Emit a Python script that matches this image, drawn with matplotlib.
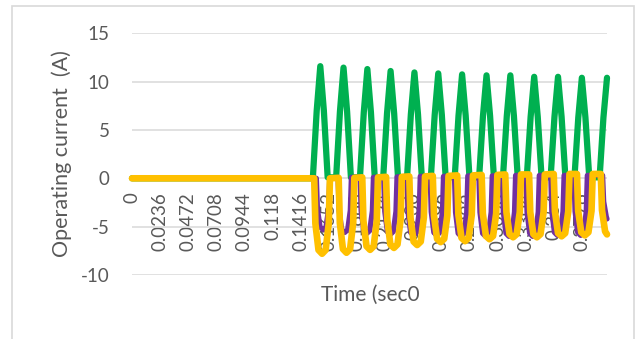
import matplotlib
matplotlib.use("Agg")
import matplotlib.pyplot as plt
from matplotlib.patches import Rectangle

# ---- data -------------------------------------------------------------
# time axis (s)
t_end = 0.3986
fault_t = 0.150
tick_times = [0, 0.0236, 0.0472, 0.0708, 0.0944, 0.118, 0.1416, 0.1652,
              0.1888, 0.2124, 0.236, 0.2596, 0.2832, 0.3068, 0.3304,
              0.354, 0.3776]
tick_labels = ["0", "0.0236", "0.0472", "0.0708", "0.0944", "0.118",
               "0.1416", "0.1652", "0.1888", "0.2124", "0.236", "0.2596",
               "0.2832", "0.3068", "0.3304", "0.354", "0.3776"]
y_ticks = [-10, -5, 0, 5, 10, 15]

# phase A (green): time and value of each positive lobe peak
green_peak_t = [0.158, 0.1775, 0.1975, 0.217, 0.237, 0.257, 0.277,
                0.2975, 0.3175, 0.3375, 0.3575, 0.3775]
green_peak_v = [11.6, 11.45, 11.3, 11.1, 10.95, 10.85, 10.75, 10.65,
                10.65, 10.5, 10.5, 10.4]
green_base_v = [0.1] * 12
green_last_t = 0.3986
green_end_v = 10.4

# phase B (purple): time and value of each negative lobe trough
purple_trough_t = [0.1603, 0.1785, 0.197, 0.2168, 0.2363, 0.2558, 0.2762,
                   0.2967, 0.3163, 0.3362, 0.357, 0.3765]
purple_trough_v = [-5.3, -5.6, -5.7, -5.8, -5.9, -5.9, -6.0, -6.0, -6.0,
                   -6.0, -5.9, -5.9]
purple_flat_v = [0.0, 0.1, 0.1, 0.15, 0.2, 0.2, 0.25, 0.25, 0.3, 0.3, 0.3, 0.3]
purple_last_t = 0.4005
purple_end_v = -4.2

# phase C (yellow): time and value of each negative lobe trough
yellow_trough_t = [0.1595, 0.18, 0.1998, 0.2198, 0.2393, 0.259, 0.2795,
                   0.3, 0.3198, 0.3398, 0.3605, 0.38]
yellow_trough_v = [-7.8, -7.7, -7.4, -7.2, -6.9, -6.6, -6.5, -6.3, -6.1,
                   -6.1, -6.0, -5.9]
yellow_flat_v = [0.0, 0.05, 0.1, 0.15, 0.2, 0.25, 0.3, 0.35, 0.4, 0.4,
                 0.45, 0.45]
yellow_last_t = 0.40
yellow_end_v = -5.8

# ---- lobe outline (relative time, fraction of lobe height) -------------
green_shape = ([-0.0062, -0.003, 0.0, 0.003, 0.0062],
               [0.0, 0.6, 1.0, 0.6, 0.0])
u_shape = ([-0.0066, -0.0056, -0.003, 0.0, 0.003, 0.0056, 0.0066],
           [0.0, 0.6, 0.95, 1.0, 0.95, 0.6, 0.0])
u_shape_b = ([-0.0056, -0.0047, -0.0025, 0.0, 0.0025, 0.0047, 0.0056],
             [0.0, 0.6, 0.95, 1.0, 0.95, 0.6, 0.0])


def wave(centres, extremes, levels, shape, last_t, end_v):
    offs, fracs = shape
    t, v = [0.0], [0.0]
    t.append(min(fault_t, centres[0] + offs[0]))
    v.append(0.0)
    for c, e, lv in zip(centres, extremes, levels):
        for o, f in zip(offs, fracs):
            t.append(c + o)
            v.append(lv + (e - lv) * f)
    lv = levels[-1]
    for o, f in zip(offs, fracs):
        if last_t + o < t_end - 1e-6:
            t.append(last_t + o)
            v.append(lv + (end_v - lv) * f)
    t.append(t_end)
    v.append(end_v)
    return t, v


gt, gv = wave(green_peak_t, green_peak_v, green_base_v, green_shape,
              green_last_t, green_end_v)
pt, pv = wave(purple_trough_t, purple_trough_v, purple_flat_v, u_shape_b,
              purple_last_t, purple_end_v)
yt, yv = wave(yellow_trough_t, yellow_trough_v, yellow_flat_v, u_shape,
              yellow_last_t, yellow_end_v)

# ---- figure -------------------------------------------------------------
plt.rcParams['font.family'] = ['Lato', 'DejaVu Sans']
text_grey = '#595959'

fig = plt.figure(figsize=(6.39, 3.39), dpi=100)
fig.patch.set_facecolor('white')
fig.patches.append(Rectangle((12 / 639, -0.05), 622 / 639, 333 / 339 + 0.05,
                             transform=fig.transFigure, fill=False,
                             edgecolor='#d9d9d9', linewidth=1.2))

ax = fig.add_axes([132 / 639, 64 / 339, 475 / 639, 241.7 / 339])
ax.set_xlim(0, t_end)
ax.set_ylim(-10, 15)

for s in ax.spines.values():
    s.set_visible(False)
ax.spines['bottom'].set_position(('data', 0))

ax.set_yticks(y_ticks)
ax.set_yticklabels([str(v) for v in y_ticks])
ax.yaxis.grid(True, color='#d9d9d9', linewidth=1.1)
ax.set_axisbelow(True)
ax.tick_params(axis='y', length=0, pad=16, labelsize=13.5,
               labelcolor=text_grey)

ax.set_xticks(tick_times)
ax.set_xticklabels(tick_labels, rotation=90)
ax.tick_params(axis='x', length=0, pad=10, labelsize=13.5,
               labelcolor=text_grey)

kw = dict(solid_joinstyle='round', solid_capstyle='round', clip_on=False)
ax.plot(gt, gv, color='#00b050', linewidth=4.5, zorder=3, **kw)
ax.plot(pt, pv, color='#7030a0', linewidth=3.8, zorder=4, **kw)
ax.plot(yt, yv, color='#ffc000', linewidth=4.8, zorder=5, **kw)

fig.text(62 / 639, 185 / 339, 'Operating current  (A)', rotation=90,
         ha='center', va='center', fontsize=15.5, color=text_grey)
fig.text(370 / 639, 44 / 339, 'Time (sec0', ha='center', va='center',
         fontsize=15, color=text_grey)

fig.savefig('out.png', dpi=100)
